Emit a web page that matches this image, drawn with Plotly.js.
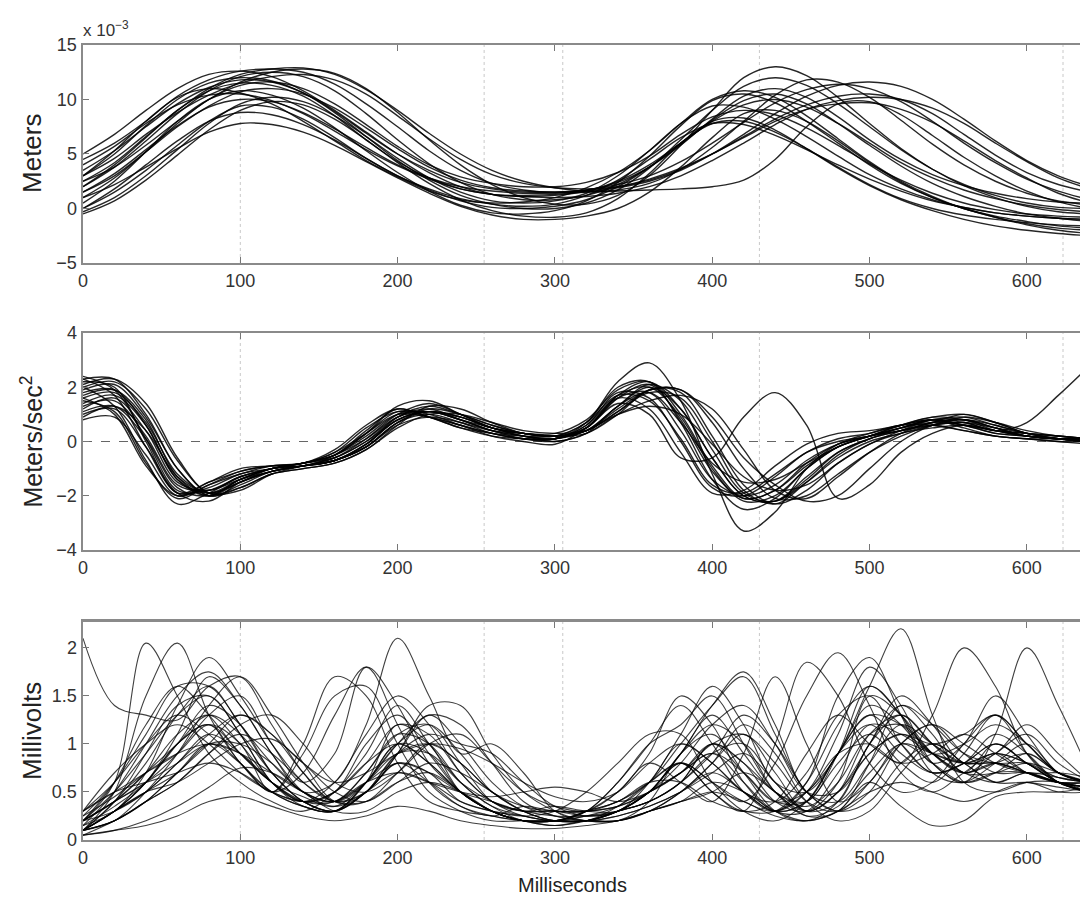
<!DOCTYPE html>
<html>
<head>
<meta charset="utf-8">
<script src="https://cdn.plot.ly/plotly-3.0.1.min.js"></script>
<style>html,body{margin:0;padding:0;background:#fff;overflow:hidden}#chart{width:1080px;height:900px}</style>
</head>
<body>
<div id="chart"></div>
<script>
// Time samples (ms)
const timeMs = [0,20,40,60,80,100,120,140,160,180,200,220,240,260,280,300,320,340,360,380,400,420,440,460,480,500,520,540,560,580,600,620,640];

// Panel 1: lip position (x 10^-3 meters), one row per record
const lipPosition = [
 [2,4,6.5,9,10.8,11.5,11.3,10.3,8.5,6.3,4.3,2.8,1.8,1.3,1.1,1.2,1.6,2.5,4,6,8,9.5,10,9.3,7.8,6,4.2,2.8,1.7,0.9,0.3,-0.1,-0.3],
 [4.5,6,8,10.3,11.8,12.6,12.8,12.5,11.4,9.6,7.5,5.3,3.5,2.3,1.7,1.5,1.7,2.4,3.8,5.8,8.2,10.3,11,10.2,8.4,6.3,4.5,3.1,2.1,1.4,0.9,0.6,0.5],
 [0,1.5,3.5,5.8,8,9.4,9.3,8.2,6.5,4.6,3,1.7,0.7,0.1,0,0.2,0.8,2,3.8,6,7.8,8,7,5.5,3.8,2.2,0.9,0,-0.6,-1,-1.3,-1.5,-1.6],
 [1,2.2,3.8,5.5,7,7.8,7.7,7,5.8,4.3,2.8,1.4,0.2,-0.6,-1,-1,-0.7,0,1.5,3.8,6.5,8.7,9,8,6.2,4.2,2.4,1,0,-0.8,-1.5,-2,-2.3],
 [3,4.6,6.8,8.8,10.4,11.5,12.1,12.3,11.8,10.5,8.5,6.4,4.5,3.1,2.3,1.9,1.8,2,2.6,3.6,5,6.6,8.2,9.5,10.3,10.5,10,8.7,6.8,4.9,3.3,2.2,1.5],
 [-0.3,1,3,5.4,7.8,9.6,10.2,9.8,8.5,6.6,4.6,2.8,1.5,0.7,0.5,0.7,1.4,3,5.3,7.8,9.4,9.3,8.2,6.6,4.8,3.1,1.8,0.8,0.1,-0.4,-0.7,-0.9,-1],
 [5,6.8,9,11,12.3,12.6,12.1,10.8,9,7,5,3.3,2,1.3,1.2,1.3,1.5,1.9,2.5,3.5,5,6.8,8.7,10.3,11.3,11.6,11.2,10,8.2,6.2,4.4,3,2],
 [1.5,3,5.2,7.5,9.4,10.7,11,10.5,9.2,7.4,5.5,3.8,2.6,1.9,1.6,1.5,1.5,1.6,1.7,1.8,2,2.6,4.5,7.5,9.6,9.8,8.6,6.7,4.7,3,1.6,0.6,0],
 [2.5,3.8,5.8,8,10,11.6,12.5,12.8,12.4,11,8.8,6.3,4,2.2,1,0.4,0.4,1.2,3,5.8,9,12,13,12.2,10.2,7.8,5.5,3.6,2.1,1,0.2,-0.3,-0.5],
 [0.5,2.5,5.2,8,10,10.8,10.4,9.2,7.4,5.3,3.3,1.6,0.3,-0.4,-0.5,-0.2,0.7,2.4,4.8,7.6,9.9,10.5,9.7,8,6,4,2.3,1,0,-0.8,-1.4,-1.8,-2],
 [3.5,5.3,7.5,9.6,11.1,11.8,11.6,10.6,8.9,6.9,5,3.5,2.4,1.8,1.5,1.5,1.7,2.2,3,4.3,6,7.9,9.7,10.9,11.4,11,9.8,8,6,4.2,2.7,1.6,0.8],
 [0,1.8,4,6.2,8,8.8,8.6,7.7,6.3,4.6,3,1.8,0.9,0.4,0.2,0.4,1.2,2.6,4.5,6.5,7.8,7.7,6.7,5.4,4,2.7,1.6,0.7,0.1,-0.4,-0.7,-0.9,-1],
 [2,3.8,6.2,8.7,10.8,12.1,12.5,12.1,10.8,8.7,6.3,4.1,2.4,1.3,0.8,0.8,1.2,2.2,3.8,5.9,8.1,9.9,10.5,9.6,7.8,5.8,3.9,2.3,1.1,0.2,-0.5,-0.9,-1.2],
 [4,5.7,7.8,9.5,10.4,10.5,9.9,8.7,7.1,5.4,3.9,2.7,1.8,1.3,1.1,1,1.1,1.4,2,3,4.4,6,7.7,9.1,9.9,10.2,10,9.2,7.8,6,4.3,2.8,1.8],
 [1,2.8,5.2,7.8,10,11.3,11.6,11,9.6,7.7,5.7,4,2.9,2.3,2,2,2.4,3.3,4.8,6.8,8.4,9,8.6,7.4,5.8,4.1,2.6,1.4,0.5,-0.1,-0.5,-0.7,-0.8],
 [3,5,7.6,10,11.5,12,11.7,10.6,8.8,6.6,4.4,2.6,1.2,0.4,0,0,0.5,1.7,3.7,6.3,9,11.2,12,11.3,9.6,7.5,5.4,3.6,2.2,1.2,0.5,0.1,0],
 [-0.5,0.7,2.6,4.9,7.2,9,9.8,9.5,8.2,6.3,4.2,2.3,0.8,-0.2,-0.7,-0.8,-0.4,0.9,3.2,6,8,8.3,7.2,5.5,3.7,2.1,0.8,-0.2,-1,-1.6,-2,-2.3,-2.5],
 [2.5,4.2,6.6,9,11,12.3,12.8,12.9,12.3,10.9,9,6.9,5,3.5,2.5,1.9,1.6,1.7,2.3,3.6,5.6,8,10.4,11.8,11.6,10.2,8.1,5.9,4,2.5,1.4,0.7,0.3],
 [1.5,3.2,5.4,7.6,9.3,10,9.8,8.8,7.3,5.6,4,2.8,2,1.6,1.4,1.4,1.6,2,2.7,3.7,5,6.5,8,9.1,9.6,9.7,9.1,7.9,6.2,4.4,2.8,1.4,0.5],
 [3,5.3,8,10.2,11,10.6,9.6,8,6.2,4.4,2.9,1.6,0.8,0.5,0.6,1,1.9,3.3,5.3,7.8,10,10.8,10.2,8.5,6.4,4.3,2.5,1.1,0,-0.7,-1.2,-1.6,-1.8]
];

// Panel 2: lip acceleration (meters/sec^2)
const lipAcceleration = [
 [2.2,2.0,0.0,-1.9,-1.5,-1.1,-0.9,-0.9,-0.5,0.4,1.2,0.9,0.6,0.3,0.1,0.1,0.6,1.8,1.6,0.0,-1.7,-2.0,-1.3,-0.4,0.0,0.2,0.5,0.8,0.6,0.3,0.2,0.1,0.0],
 [1.2,1.6,0.4,-1.5,-1.8,-1.3,-1.0,-0.8,-0.6,0.0,0.9,1.2,0.8,0.4,0.2,0.1,0.4,1.3,2.0,1.2,-0.6,-2.0,-2.2,-1.3,-0.4,0.1,0.4,0.7,0.8,0.5,0.2,0.1,0.0],
 [2.3,2.3,1.0,-1.0,-2.0,-1.6,-1.1,-0.9,-0.7,-0.1,0.9,1.3,1.0,0.6,0.3,0.2,0.5,1.6,2.1,0.8,-1.1,-2.1,-1.8,-0.8,-0.1,0.2,0.4,0.6,0.4,0.2,0.1,0.0,-0.1],
 [1.0,1.2,-0.2,-1.9,-2.2,-1.5,-1.1,-0.9,-0.7,-0.2,0.7,1.0,0.7,0.3,0.1,0.1,0.7,2.2,2.9,1.5,-1.2,-3.3,-2.6,-1.0,-0.1,0.3,0.6,0.6,0.4,0.2,0.1,0.1,0.1],
 [1.8,1.9,0.6,-1.4,-1.9,-1.4,-1.0,-0.9,-0.7,-0.1,0.8,1.1,0.8,0.5,0.2,0.1,0.5,1.4,1.0,-0.6,-0.6,0.9,1.8,0.6,-2.1,-1.6,-0.4,0.3,0.6,0.4,0.2,0.1,0.1],
 [1.5,1.1,-0.8,-2.1,-1.6,-1.1,-0.9,-0.8,-0.3,0.6,1.2,0.9,0.5,0.2,0.1,0.1,0.6,1.7,2.0,0.9,-1.0,-2.2,-2.0,-1.0,-0.2,0.2,0.5,0.7,0.6,0.3,0.2,0.1,0.1],
 [2.1,2.3,1.4,-0.6,-1.9,-1.7,-1.2,-1.0,-0.8,-0.3,0.6,1.3,1.2,0.7,0.3,0.2,0.3,1.0,1.9,1.8,0.2,-1.6,-2.3,-1.8,-0.8,-0.1,0.4,0.8,0.8,0.5,0.2,0.1,0.0],
 [0.8,0.9,-0.5,-2.0,-1.6,-1.2,-0.9,-0.8,-0.4,0.3,1.0,0.9,0.6,0.2,0.0,-0.1,0.5,1.6,1.2,-0.4,-1.9,-1.8,-0.9,-0.1,0.3,0.4,0.6,0.8,0.5,0.2,0.1,0.0,0.0],
 [1.7,1.9,0.8,-1.3,-2.0,-1.5,-1.1,-0.9,-0.7,-0.2,0.7,1.1,0.9,0.5,0.3,0.2,0.4,1.3,2.1,1.5,-0.3,-1.9,-2.2,-1.5,-0.6,0.0,0.3,0.6,0.7,0.5,0.3,0.1,0.0],
 [2.4,1.9,0.1,-1.8,-1.8,-1.3,-1.0,-0.8,-0.5,0.2,1.0,1.1,0.8,0.4,0.1,0.0,0.3,1.3,1.8,0.7,-0.8,-1.5,-1.4,-0.8,-0.2,0.2,0.5,0.8,0.9,0.6,0.3,0.1,0.0],
 [1.4,1.7,0.6,-1.4,-2.0,-1.4,-1.0,-0.9,-0.6,0.0,0.8,1.1,0.8,0.4,0.2,0.1,0.5,1.6,1.8,0.4,-1.4,-2.0,-1.6,-0.7,-0.1,0.2,0.4,0.6,0.7,0.4,0.7,1.7,2.8],
 [1.6,1.8,0.7,-1.2,-1.9,-1.5,-1.0,-0.9,-0.7,-0.1,0.8,1.1,0.9,0.5,0.3,0.2,0.4,1.1,1.9,1.9,0.9,-0.6,-1.6,-2.2,-2.0,-1.0,0.0,0.6,0.9,0.7,0.4,0.2,0.1],
 [2.0,1.3,-0.7,-2.3,-1.9,-1.3,-1.0,-0.8,-0.5,0.3,1.3,1.5,1.0,0.5,0.3,0.2,0.7,2.0,2.2,0.7,-1.4,-2.5,-2.1,-1.0,-0.2,0.2,0.6,0.9,0.8,0.4,0.2,0.1,0.0],
 [1.3,1.5,0.2,-1.6,-1.8,-1.4,-1.1,-0.9,-0.7,-0.2,0.6,0.9,0.7,0.4,0.3,0.2,0.4,1.0,1.3,1.0,-0.1,-1.3,-1.8,-1.6,-0.8,-0.1,0.3,0.5,0.6,0.4,0.3,0.2,0.1],
 [2.3,1.7,-0.2,-1.9,-1.7,-1.2,-1.0,-0.8,-0.5,0.3,1.1,1.0,0.6,0.3,0.1,0.1,0.5,1.7,2.2,1.2,-0.6,-2.0,-2.2,-1.4,-0.4,0.1,0.5,0.8,0.7,0.4,0.3,0.2,0.1],
 [0.9,1.3,0.4,-1.3,-1.9,-1.5,-1.1,-0.9,-0.7,-0.2,0.7,1.2,1.0,0.6,0.3,0.2,0.4,1.2,1.9,1.9,0.7,-1.0,-2.1,-2.0,-1.2,-0.4,0.2,0.6,0.8,0.6,0.3,0.2,0.1],
 [1.9,2.1,0.9,-1.0,-2.0,-1.7,-1.2,-1.0,-0.8,-0.3,0.5,1.0,1.0,0.7,0.4,0.3,0.4,1.1,1.8,1.6,0.0,-1.8,-2.3,-1.5,-0.5,0.1,0.4,0.7,1.0,0.7,0.3,0.1,0.0],
 [1.6,1.0,-0.9,-2.0,-1.5,-1.0,-0.9,-0.8,-0.4,0.5,1.1,0.9,0.5,0.3,0.2,0.2,0.7,1.7,1.5,0.1,-1.6,-1.9,-1.2,-0.4,0.1,0.3,0.6,0.8,0.6,0.4,0.2,0.1,0.1],
 [2.0,2.2,1.2,-0.7,-1.9,-1.8,-1.2,-0.9,-0.6,0.1,1.0,1.4,1.0,0.5,0.2,0.0,0.3,1.0,1.5,1.7,1.2,-0.3,-1.8,-2.1,-1.3,-0.4,0.3,0.7,0.8,0.5,0.2,0.1,0.0],
 [1.1,1.3,0.1,-1.7,-2.0,-1.4,-1.0,-0.8,-0.5,0.1,0.9,1.1,0.9,0.5,0.3,0.3,0.8,1.9,2.2,1.0,-0.9,-2.1,-1.8,-0.9,-0.2,0.2,0.6,0.9,1.0,0.7,0.3,0.1,0.0]
];

// Panel 3: EMG (millivolts)
const emgMillivolts = [
 [0.1,0.4,0.8,1.3,1.6,1.2,0.8,0.5,0.4,0.7,1.1,1.2,0.8,0.4,0.3,0.35,0.3,0.3,0.5,0.7,0.9,0.6,0.3,0.3,0.7,1.2,1.1,0.9,0.8,0.9,0.8,0.6,0.55],
 [0.2,0.6,2.05,1.5,0.9,0.6,0.4,0.3,0.5,0.9,1.4,1,0.6,0.35,0.2,0.2,0.25,0.3,0.4,0.6,1,0.8,0.4,0.3,0.6,1.5,1.3,0.9,0.7,1,0.8,0.6,0.5],
 [0.1,0.5,1.5,2.05,1.3,0.8,0.5,0.35,0.3,0.6,1,0.9,0.5,0.3,0.2,0.2,0.3,0.5,0.8,0.6,0.4,0.9,1.7,1,0.4,0.6,1,0.8,0.6,0.7,0.9,0.7,0.6],
 [2.1,1.4,1.3,1.25,1.6,1.7,1.2,0.7,0.4,0.6,1,0.8,0.5,0.3,0.2,0.2,0.2,0.35,0.6,0.8,0.5,0.3,0.4,0.9,1.3,1,0.8,0.9,1.1,0.9,0.7,0.6,0.6],
 [0.15,0.3,0.7,1.4,1.9,1.5,1,0.6,0.4,0.5,0.8,0.6,0.35,0.25,0.35,0.3,0.3,0.5,0.9,1.5,1.2,0.6,0.3,0.4,0.9,1.2,0.9,0.7,0.8,1,0.8,0.6,0.5],
 [0.1,0.3,0.6,1.1,1.7,1.4,0.9,0.5,0.6,1.2,2.1,1.5,0.9,1.0,0.7,0.3,0.2,0.25,0.35,0.5,0.7,0.5,0.3,0.5,1.1,1.8,1.4,0.8,0.6,0.7,0.7,0.6,0.55],
 [0.3,0.5,0.7,0.9,1.2,1,0.5,1,1.7,1.5,0.8,0.4,0.3,0.25,0.2,0.2,0.3,0.6,1,1.4,1,0.5,0.3,0.6,1.5,1.9,1.3,0.7,0.6,0.8,1,0.7,0.6],
 [0.2,0.4,0.6,0.9,1.3,1.5,1,0.6,0.9,1.8,1.4,0.8,0.5,0.3,0.2,0.2,0.3,0.4,0.6,1,1.4,1.7,1.1,0.5,0.3,0.5,1,1.2,0.9,0.7,0.7,0.6,0.6],
 [0.05,0.2,0.4,0.7,1,1.3,1.1,0.7,0.4,0.5,0.9,1.3,1,0.6,0.35,0.25,0.2,0.2,0.3,0.5,0.8,1.1,0.7,0.3,0.5,1,1.5,1.2,0.8,0.9,1.2,0.9,0.6],
 [0.1,0.3,0.6,1,1.4,1.2,0.7,0.4,0.3,0.6,1.2,1,0.5,0.3,0.2,0.15,0.2,0.3,0.5,0.8,0.6,0.4,0.3,0.5,0.9,1.6,2.2,1.3,0.6,0.5,0.6,0.6,0.5],
 [0.2,0.4,0.7,1.1,1.3,1,0.6,0.4,0.5,1,1.3,0.9,0.5,0.3,0.2,0.2,0.2,0.3,0.4,0.6,1,0.7,0.4,0.5,0.9,1,0.8,1.3,2,1.6,0.9,0.6,0.5],
 [0.1,0.3,0.5,0.7,1,1,0.8,0.5,0.4,0.6,0.8,0.7,0.5,0.4,0.3,0.3,0.25,0.3,0.6,1.1,1.6,1.2,0.6,0.5,0.9,1.4,1.2,0.8,0.6,1.1,2,1.4,0.7],
 [0.2,0.4,0.6,0.8,1,0.9,0.6,0.4,0.3,0.5,0.7,0.6,0.4,0.3,0.25,0.2,0.3,0.4,0.6,0.8,0.6,0.4,0.8,1.5,1.95,1.4,0.7,0.5,0.7,0.9,0.7,0.6,0.6],
 [0.1,0.2,0.4,0.6,0.9,1.1,0.9,0.6,0.4,0.4,0.6,0.7,0.5,0.3,0.2,0.2,0.2,0.3,0.5,0.8,0.5,0.3,1,1.85,1.5,0.8,0.5,0.6,1,1.3,0.9,0.6,0.5],
 [0.3,0.6,1,1.3,1.1,0.8,0.5,0.35,0.3,0.6,1,1.2,0.9,0.5,0.3,0.2,0.2,0.3,0.5,0.9,1.4,1.75,1.2,0.5,0.4,0.8,1.2,1,0.8,0.8,0.7,0.6,0.55],
 [0.1,0.3,0.5,0.8,1.1,0.9,0.6,0.4,0.5,0.8,1,0.8,0.5,0.3,0.2,0.2,0.3,0.6,1,1.2,1.5,1,0.5,0.3,0.5,0.9,1.1,0.9,0.7,0.8,0.7,0.6,0.5],
 [0.2,0.4,0.7,1,1.3,1.1,0.7,0.4,0.3,0.5,0.8,0.7,0.4,0.3,0.25,0.3,0.5,0.8,1.1,1.1,0.6,0.3,0.2,0.4,0.9,1.3,1,0.7,0.8,1.1,0.9,0.6,0.5],
 [0.1,0.2,0.4,0.7,1,0.8,0.5,0.9,1.5,1.6,1,0.5,0.3,0.2,0.2,0.2,0.2,0.3,0.4,0.6,0.9,1,0.6,0.3,0.5,1.1,1.3,1,0.8,0.9,0.8,0.6,0.5],
 [0.05,0.1,0.2,0.35,0.55,0.75,0.7,0.5,0.3,0.3,0.5,0.6,0.5,0.3,0.2,0.15,0.2,0.2,0.3,0.4,0.6,0.5,0.3,0.2,0.3,0.5,0.6,0.5,0.4,0.5,0.6,0.5,0.5],
 [0.05,0.1,0.15,0.25,0.4,0.45,0.35,0.25,0.2,0.25,0.35,0.3,0.2,0.15,0.12,0.12,0.15,0.2,0.3,0.4,0.5,0.4,0.25,0.2,0.3,0.6,0.35,0.15,0.2,0.45,0.5,0.5,0.55],
 [0.3,0.7,1,1.2,1,0.7,0.5,0.4,0.5,0.8,1.2,1.1,0.7,0.4,0.3,0.25,0.25,0.3,0.5,0.7,0.9,0.7,0.4,0.4,0.8,1.1,0.8,0.6,0.9,1.3,1,0.7,0.6],
 [0.1,0.2,0.5,0.9,1.4,1.7,1.3,0.8,0.4,0.4,0.7,1,0.8,0.5,0.3,0.2,0.2,0.2,0.3,0.5,0.8,1.2,0.9,0.4,0.2,0.3,0.7,1,0.8,0.6,0.6,0.55,0.5],
 [0.2,0.5,0.9,1.3,1.5,1.1,0.6,0.4,0.6,1.1,1.5,1.2,0.7,0.4,0.25,0.2,0.2,0.25,0.35,0.5,0.7,0.9,0.6,0.3,0.4,1,1.3,1,0.7,0.7,0.8,0.7,0.6],
 [0.15,0.35,0.6,1,1.2,0.9,0.6,0.45,0.35,0.6,1,1.3,1.2,0.8,0.4,0.25,0.2,0.2,0.3,0.4,0.5,0.7,0.5,0.25,0.3,0.8,1.4,1.1,0.7,0.9,1.1,0.8,0.6],
 [0.25,0.45,0.7,0.9,1,0.9,0.7,0.5,0.4,0.6,0.9,0.9,0.6,0.4,0.3,0.3,0.3,0.35,0.5,0.7,1,0.8,0.5,0.35,0.6,1.1,1.2,0.9,0.7,0.8,0.9,0.7,0.6],
 [0.1,0.3,0.5,0.6,0.8,1,1.05,0.8,0.5,0.4,0.6,0.8,0.7,0.5,0.3,0.2,0.2,0.3,0.4,0.6,0.9,1.3,1,0.5,0.3,0.4,0.8,1,0.8,0.6,0.7,0.6,0.55],
 [0.1,0.3,0.6,1,1.2,0.8,0.5,0.7,1.3,1.8,1.2,0.6,0.35,0.25,0.2,0.2,0.2,0.3,0.5,0.9,1.3,0.9,0.5,0.4,0.9,1.6,1.3,0.8,1,1.5,1.1,0.7,0.6],
 [0.2,0.6,1.2,1.6,1.3,0.9,0.6,0.4,0.4,0.7,1.1,1,0.6,0.35,0.25,0.2,0.25,0.35,0.6,1,0.8,0.5,0.4,0.7,1.3,1.5,1,0.7,0.8,1,0.8,0.65,0.6],
 [0.2,0.3,0.5,0.8,1.1,1.3,1.1,0.8,0.6,0.7,0.9,1.0,0.95,0.8,0.6,0.45,0.4,0.5,0.8,1.0,0.8,0.5,0.3,0.4,0.9,1.3,1.2,0.9,0.7,0.6,0.7,0.65,0.6],
 [0.1,0.4,0.9,1.4,1.5,1.1,0.6,0.35,0.3,0.5,0.9,1.1,1.0,0.9,0.6,0.35,0.25,0.3,0.5,0.9,1.2,1.0,0.5,0.25,0.35,0.7,1.0,0.9,0.8,0.8,0.7,0.6,0.55],
 [0.3,0.5,0.6,0.7,0.8,0.7,0.5,0.4,0.4,0.6,0.7,0.6,0.5,0.45,0.5,0.55,0.5,0.4,0.5,0.7,1.0,1.1,0.8,0.4,0.3,0.6,1.0,1.2,1.0,0.8,0.7,0.7,0.65],
 [0.15,0.5,1.0,1.5,1.75,1.4,0.9,0.5,0.35,0.5,0.9,1.4,1.4,0.9,0.5,0.3,0.2,0.2,0.4,0.9,1.1,0.7,0.3,0.2,0.4,1.0,1.4,1.2,0.9,0.8,0.8,0.65,0.6],
 [0.1,0.2,0.4,0.6,0.9,1.2,1.3,1.0,0.6,0.5,0.7,1.0,1.1,0.8,0.5,0.35,0.3,0.4,0.6,0.6,0.4,0.3,0.3,0.6,1.2,1.6,1.3,0.9,1.0,1.2,1.0,0.7,0.6],
 [0.25,0.6,1.1,1.6,1.6,1.2,0.7,0.4,0.3,0.5,0.9,1.0,0.8,0.5,0.35,0.3,0.3,0.35,0.5,0.8,1.2,1.4,1.0,0.5,0.5,0.9,1.1,1.0,1.1,1.3,1.0,0.7,0.6]
];

// Axis ticks and labels
const xTickVals = [0,100,200,300,400,500,600];
const posTickVals = [-5,0,5,10,15];
const accTickVals = [-4,-2,0,2,4];
const emgTickVals = [0,0.5,1,1.5,2];
const eventTimes = [100,255,305,430,623];
const axisTitles = {pos:'Meters', acc:'Meters/sec<sup>2</sup>', emg:'Millivolts', x:'Milliseconds', scale:'x 10<sup>−3</sup>'};

const FONT = 'Liberation Sans, Arial, Helvetica, sans-serif';
const traces = [];
function addPanel(rows, xa, ya, color, width) {
  rows.forEach(r => traces.push({
    x: timeMs, y: r, xaxis: xa, yaxis: ya, type: 'scatter', mode: 'lines',
    line: {color: color, width: width, shape: 'spline', smoothing: 1},
    hoverinfo: 'skip', showlegend: false
  }));
}
addPanel(lipPosition, 'x', 'y', 'rgba(0,0,0,0.85)', 1.4);
addPanel(lipAcceleration, 'x2', 'y2', 'rgba(0,0,0,0.85)', 1.4);
addPanel(emgMillivolts, 'x3', 'y3', 'rgba(0,0,0,0.75)', 1.1);

const XR = [0, 633.8];
function xAxis(anchor) {
  return {domain:[0,1], range:XR, anchor:anchor, tickvals:xTickVals, ticks:'inside', ticklen:6,
    tickcolor:'#777', tickwidth:1, showline:true, linecolor:'#8a8a8a', linewidth:2.5, mirror:'ticks',
    showgrid:false, zeroline:false, tickfont:{family:FONT, size:18, color:'#333'}};
}
function yAxis(anchor, dom, range, tv) {
  return {domain:dom, range:range, anchor:anchor, tickvals:tv, ticks:'inside', ticklen:6,
    tickcolor:'#777', tickwidth:1, showline:true, linecolor:'#8a8a8a', linewidth:2.5, mirror:false,
    showgrid:false, zeroline:false, tickfont:{family:FONT, size:18, color:'#333'}};
}
const D1 = [0.7078, 0.95], D2 = [0.3889, 0.63], D3 = [0.0667, 0.3089];

const shapes = [];
[['x','y'],['x2','y2'],['x3','y3']].forEach(([xa, ya]) => {
  eventTimes.forEach(t => shapes.push({type:'line', xref:xa, yref:ya + ' domain', x0:t, x1:t, y0:0, y1:1,
    line:{color:'#c8c8c8', width:1, dash:'dot'}, layer:'below'}));
});
shapes.push({type:'line', xref:'x2 domain', yref:'y2', x0:0, x1:1, y0:0, y1:0,
  line:{color:'#666', width:1.2, dash:'dash'}, layer:'below'});

const annotations = [
  {text:axisTitles.pos, xref:'paper', yref:'paper', x:0, xanchor:'center', xshift:-51, y:(D1[0]+D1[1])/2, yanchor:'middle', textangle:-90,
   showarrow:false, font:{family:FONT, size:26, color:'#222'}},
  {text:axisTitles.acc, xref:'paper', yref:'paper', x:0, xanchor:'center', xshift:-51, y:(D2[0]+D2[1])/2, yanchor:'middle', textangle:-90,
   showarrow:false, font:{family:FONT, size:25, color:'#222'}},
  {text:axisTitles.emg, xref:'paper', yref:'paper', x:0, xanchor:'center', xshift:-51, y:(D3[0]+D3[1])/2, yanchor:'middle', textangle:-90,
   showarrow:false, font:{family:FONT, size:26, color:'#222'}},
  {text:axisTitles.x, xref:'x3', yref:'paper', x:311, y:0.017, yanchor:'middle', showarrow:false,
   font:{family:FONT, size:20, color:'#222'}},
  {text:axisTitles.scale, xref:'paper', yref:'paper', x:0, xanchor:'left', xshift:-2, y:0.95, yanchor:'bottom', yshift:3,
   showarrow:false, font:{family:FONT, size:17, color:'#333'}}
];

const layout = {
  width:1080, height:900, margin:{l:83, r:0, t:0, b:0},
  paper_bgcolor:'#fff', plot_bgcolor:'#fff', showlegend:false,
  xaxis:xAxis('y'), yaxis:yAxis('x', D1, [-5,15], posTickVals),
  xaxis2:xAxis('y2'), yaxis2:yAxis('x2', D2, [-4,4], accTickVals),
  xaxis3:xAxis('y3'), yaxis3:yAxis('x3', D3, [0,2.27], emgTickVals),
  shapes:shapes, annotations:annotations
};
Plotly.newPlot('chart', traces, layout, {staticPlot:true, displayModeBar:false});
</script>
</body>
</html>
